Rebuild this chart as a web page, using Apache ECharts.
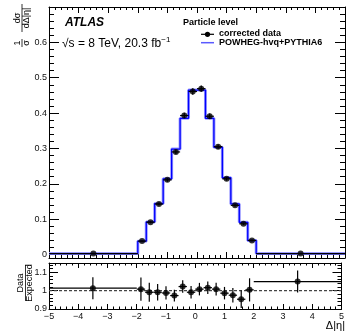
<!DOCTYPE html>
<html>
<head>
<meta charset="utf-8">
<script src="https://cdn.jsdelivr.net/npm/echarts@6/dist/echarts.min.js"></script>
<style>html,body{margin:0;padding:0;background:#fff;}#c{width:347px;height:334px;}</style>
</head>
<body>
<div id="c"></div>
<script>
// bin edges in Δ|η|
var binEdges = [-5, -2, -1.714, -1.429, -1.143, -0.857, -0.571, -0.286, 0, 0.286, 0.571, 0.857, 1.143, 1.429, 1.714, 2, 5];
// POWHEG-hvq+PYTHIA6 prediction (1/σ dσ/dΔ|η|)
var mcValues = [0.0025, 0.0375, 0.092, 0.144, 0.214, 0.298, 0.385, 0.465, 0.465, 0.385, 0.303, 0.217, 0.143, 0.091, 0.0395, 0.0025];
// corrected data
var dataValues = [0.0025, 0.0378, 0.0912, 0.1427, 0.211, 0.290, 0.393, 0.461, 0.469, 0.391, 0.305, 0.214, 0.139, 0.0867, 0.0397, 0.0026];
var dataErrors = [0.0003, 0.002, 0.003, 0.004, 0.005, 0.006, 0.008, 0.009, 0.009, 0.008, 0.006, 0.005, 0.004, 0.003, 0.002, 0.0003];
// Data / Expected
var ratioValues = [1.013, 1.008, 0.991, 0.991, 0.987, 0.973, 1.022, 0.991, 1.008, 1.016, 1.008, 0.986, 0.975, 0.953, 1.004, 1.049];
var ratioErrors = [0.060, 0.063, 0.052, 0.045, 0.036, 0.032, 0.034, 0.034, 0.034, 0.034, 0.034, 0.034, 0.039, 0.047, 0.063, 0.060];
// tick labels
var mainYTicks = [0, 0.1, 0.2, 0.3, 0.4, 0.5, 0.6];
var mainYMinor = [0.02,0.04,0.06,0.08,0.12,0.14,0.16,0.18,0.22,0.24,0.26,0.28,0.32,0.34,0.36,0.38,0.42,0.44,0.46,0.48,0.52,0.54,0.56,0.58,0.62,0.64,0.66,0.68];
var ratioYTicks = [0.9, 1, 1.1];
var ratioYMinor = [0.92,0.94,0.96,0.98,1.02,1.04,1.06,1.08,1.12,1.14];

var FONT = "'Liberation Sans', Arial, Helvetica, sans-serif";

var mcSteps = [];
for (var i = 0; i < mcValues.length; i++) {
  mcSteps.push([binEdges[i], mcValues[i]]);
  mcSteps.push([binEdges[i+1], mcValues[i]]);
}
function pts(vals, errs) {
  var out = [];
  for (var i = 0; i < vals.length; i++) {
    out.push([(binEdges[i] + binEdges[i+1]) / 2, vals[i], binEdges[i], binEdges[i+1], errs[i]]);
  }
  return out;
}
var dataPts = pts(dataValues, dataErrors);
var ratioPts = pts(ratioValues, ratioErrors);

function errRender(params, api) {
  var x = api.value(0), y = api.value(1), lo = api.value(2), hi = api.value(3), e = api.value(4);
  var a = api.coord([lo, y]), b = api.coord([hi, y]);
  var c = api.coord([x, y - e]), d = api.coord([x, y + e]);
  var st = {stroke: '#000', lineWidth: 1.2};
  return {type: 'group', children: [
    {type: 'line', shape: {x1: a[0], y1: a[1], x2: b[0], y2: b[1]}, style: st},
    {type: 'line', shape: {x1: c[0], y1: c[1], x2: d[0], y2: d[1]}, style: st}
  ]};
}

function xAx(grid, pos, labels, tl, ml) {
  return {
    type: 'value', gridIndex: grid, position: pos, min: -5, max: 5, interval: 1,
    axisLine: {show: true, onZero: false, lineStyle: {color: '#000', width: 1}},
    axisTick: {show: true, inside: true, length: tl, lineStyle: {color: '#000'}},
    minorTick: {show: true, splitNumber: 5, length: ml, lineStyle: {color: '#000'}},
    splitLine: {show: false}, minorSplitLine: {show: false},
    axisLabel: {show: labels, margin: 3, fontFamily: FONT, fontSize: 9, color: '#111',
      formatter: function (v) { return String(v).replace('-', '\u2212'); }}
  };
}
function yAx(grid, pos, min, max, ticks, len, labels, line, fmt) {
  return {
    type: 'value', gridIndex: grid, position: pos, min: min, max: max,
    axisLine: {show: line, onZero: false, lineStyle: {color: '#000', width: 1}},
    axisTick: {show: true, inside: true, length: len, customValues: ticks, lineStyle: {color: '#000'}},
    splitLine: {show: false},
    axisLabel: {show: labels, customValues: ticks, margin: 2, fontFamily: FONT, fontSize: 9, color: '#111', formatter: fmt}
  };
}
var fmtMain = function (v) { return v === 0 ? '0' : v.toFixed(1); };
var fmtRatio = function (v) { return Math.abs(v - 1) < 1e-9 ? '1' : v.toFixed(1); };

var chart = echarts.init(document.getElementById('c'), null, {renderer: 'canvas'});
chart.setOption({
  animation: false,
  backgroundColor: '#fff',
  grid: [
    {left: 49, top: 7, width: 296, height: 251},
    {left: 49, top: 263, width: 296, height: 46}
  ],
  xAxis: [
    xAx(0, 'bottom', false, 6, 3),
    xAx(0, 'top', false, 6, 3),
    xAx(1, 'bottom', true, 5, 2.5),
    xAx(1, 'top', false, 5, 2.5)
  ],
  yAxis: [
    yAx(0, 'left', -0.01, 0.7, mainYTicks, 10, true, true, fmtMain),
    yAx(0, 'left', -0.01, 0.7, mainYMinor, 5, false, false),
    yAx(0, 'right', -0.01, 0.7, mainYTicks, 10, false, true),
    yAx(0, 'right', -0.01, 0.7, mainYMinor, 5, false, false),
    yAx(1, 'left', 0.9, 1.15, ratioYTicks, 9, true, true, fmtRatio),
    yAx(1, 'left', 0.9, 1.15, ratioYMinor, 4, false, false),
    yAx(1, 'right', 0.9, 1.15, ratioYTicks, 9, false, true),
    yAx(1, 'right', 0.9, 1.15, ratioYMinor, 4, false, false)
  ],
  series: [
    {type: 'line', xAxisIndex: 0, yAxisIndex: 0, data: mcSteps, symbol: 'none',
      lineStyle: {color: '#9a9aff', width: 3}, z: 2},
    {type: 'line', xAxisIndex: 0, yAxisIndex: 0, data: mcSteps, symbol: 'none',
      lineStyle: {color: '#0000ff', width: 1.3}, z: 3},
    {type: 'custom', xAxisIndex: 0, yAxisIndex: 0, data: dataPts, renderItem: errRender,
      encode: {x: 0, y: 1}, z: 4},
    {type: 'scatter', xAxisIndex: 0, yAxisIndex: 0, data: dataPts, symbolSize: 6,
      itemStyle: {color: '#000'}, encode: {x: 0, y: 1}, z: 5},
    {type: 'line', xAxisIndex: 2, yAxisIndex: 4, data: [[-5, 1], [5, 1]], symbol: 'none',
      lineStyle: {color: '#444', width: 1.2, type: [3, 2]}, z: 2},
    {type: 'custom', xAxisIndex: 2, yAxisIndex: 4, data: ratioPts, renderItem: errRender,
      encode: {x: 0, y: 1}, z: 4},
    {type: 'scatter', xAxisIndex: 2, yAxisIndex: 4, data: ratioPts, symbolSize: 6,
      itemStyle: {color: '#000'}, encode: {x: 0, y: 1}, z: 5}
  ],
  graphic: [
    {type: 'text', left: 65, top: 17, style: {text: 'ATLAS', font: 'italic bold 12px ' + FONT, fill: '#000'}},
    {type: 'text', left: 62, top: 36, style: {
      text: '{r|\u221as = 8 TeV, 20.3 fb}{s|\u22121}',
      rich: {r: {font: '12px ' + FONT, fill: '#000'}, s: {font: '8px ' + FONT, fill: '#000', verticalAlign: 'top', padding: [0, 0, 7, 0]}}
    }},
    {type: 'text', left: 183, top: 18, style: {text: 'Particle level', font: 'bold 9px ' + FONT, fill: '#000'}},
    {type: 'line', shape: {x1: 201, y1: 34.3, x2: 214, y2: 34.3}, style: {stroke: '#000', lineWidth: 1.2}},
    {type: 'circle', shape: {cx: 207.5, cy: 34.3, r: 2.6}, style: {fill: '#000'}},
    {type: 'text', left: 219, top: 29.3, style: {text: 'corrected data', font: 'bold 9px ' + FONT, fill: '#000'}},
    {type: 'line', shape: {x1: 201, y1: 42.7, x2: 214, y2: 42.7}, style: {stroke: '#5a5aff', lineWidth: 1.5}},
    {type: 'text', left: 219, top: 37.9, style: {text: 'POWHEG-hvq+PYTHIA6', font: 'bold 9px ' + FONT, fill: '#000'}},
    // y-axis title (main)
    {type: 'group', x: 22, y: 50, rotation: Math.PI / 2, children: [
      {type: 'text', style: {text: '1', x: 7, y: -4.5, font: '9px ' + FONT, fill: '#000', align: 'center', verticalAlign: 'middle'}},
      {type: 'line', shape: {x1: 3, y1: 0, x2: 11, y2: 0}, style: {stroke: '#000', lineWidth: 0.8}},
      {type: 'text', style: {text: '\u03c3', x: 7, y: 4.5, font: '9px ' + FONT, fill: '#000', align: 'center', verticalAlign: 'middle'}},
      {type: 'text', style: {text: 'd\u03c3', x: 32, y: -4.5, font: '9px ' + FONT, fill: '#000', align: 'center', verticalAlign: 'middle'}},
      {type: 'line', shape: {x1: 18, y1: 0, x2: 46, y2: 0}, style: {stroke: '#000', lineWidth: 0.8}},
      {type: 'text', style: {text: 'd\u0394|\u03b7|', x: 32, y: 4.5, font: '9px ' + FONT, fill: '#000', align: 'center', verticalAlign: 'middle'}}
    ]},
    // y-axis title (ratio)
    {type: 'group', x: 25.5, y: 283, rotation: Math.PI / 2, children: [
      {type: 'text', style: {text: 'Data', x: 0, y: -4.5, font: '9px ' + FONT, fill: '#000', align: 'center', verticalAlign: 'middle'}},
      {type: 'line', shape: {x1: -18, y1: 0, x2: 18, y2: 0}, style: {stroke: '#000', lineWidth: 0.8}},
      {type: 'text', style: {text: 'Expected', x: 0, y: 4.5, font: '9px ' + FONT, fill: '#000', align: 'center', verticalAlign: 'middle'}}
    ]},
    {type: 'text', right: 2, top: 320, style: {text: '\u0394|\u03b7|', font: '11px ' + FONT, fill: '#000'}}
  ]
});
</script>
</body>
</html>
